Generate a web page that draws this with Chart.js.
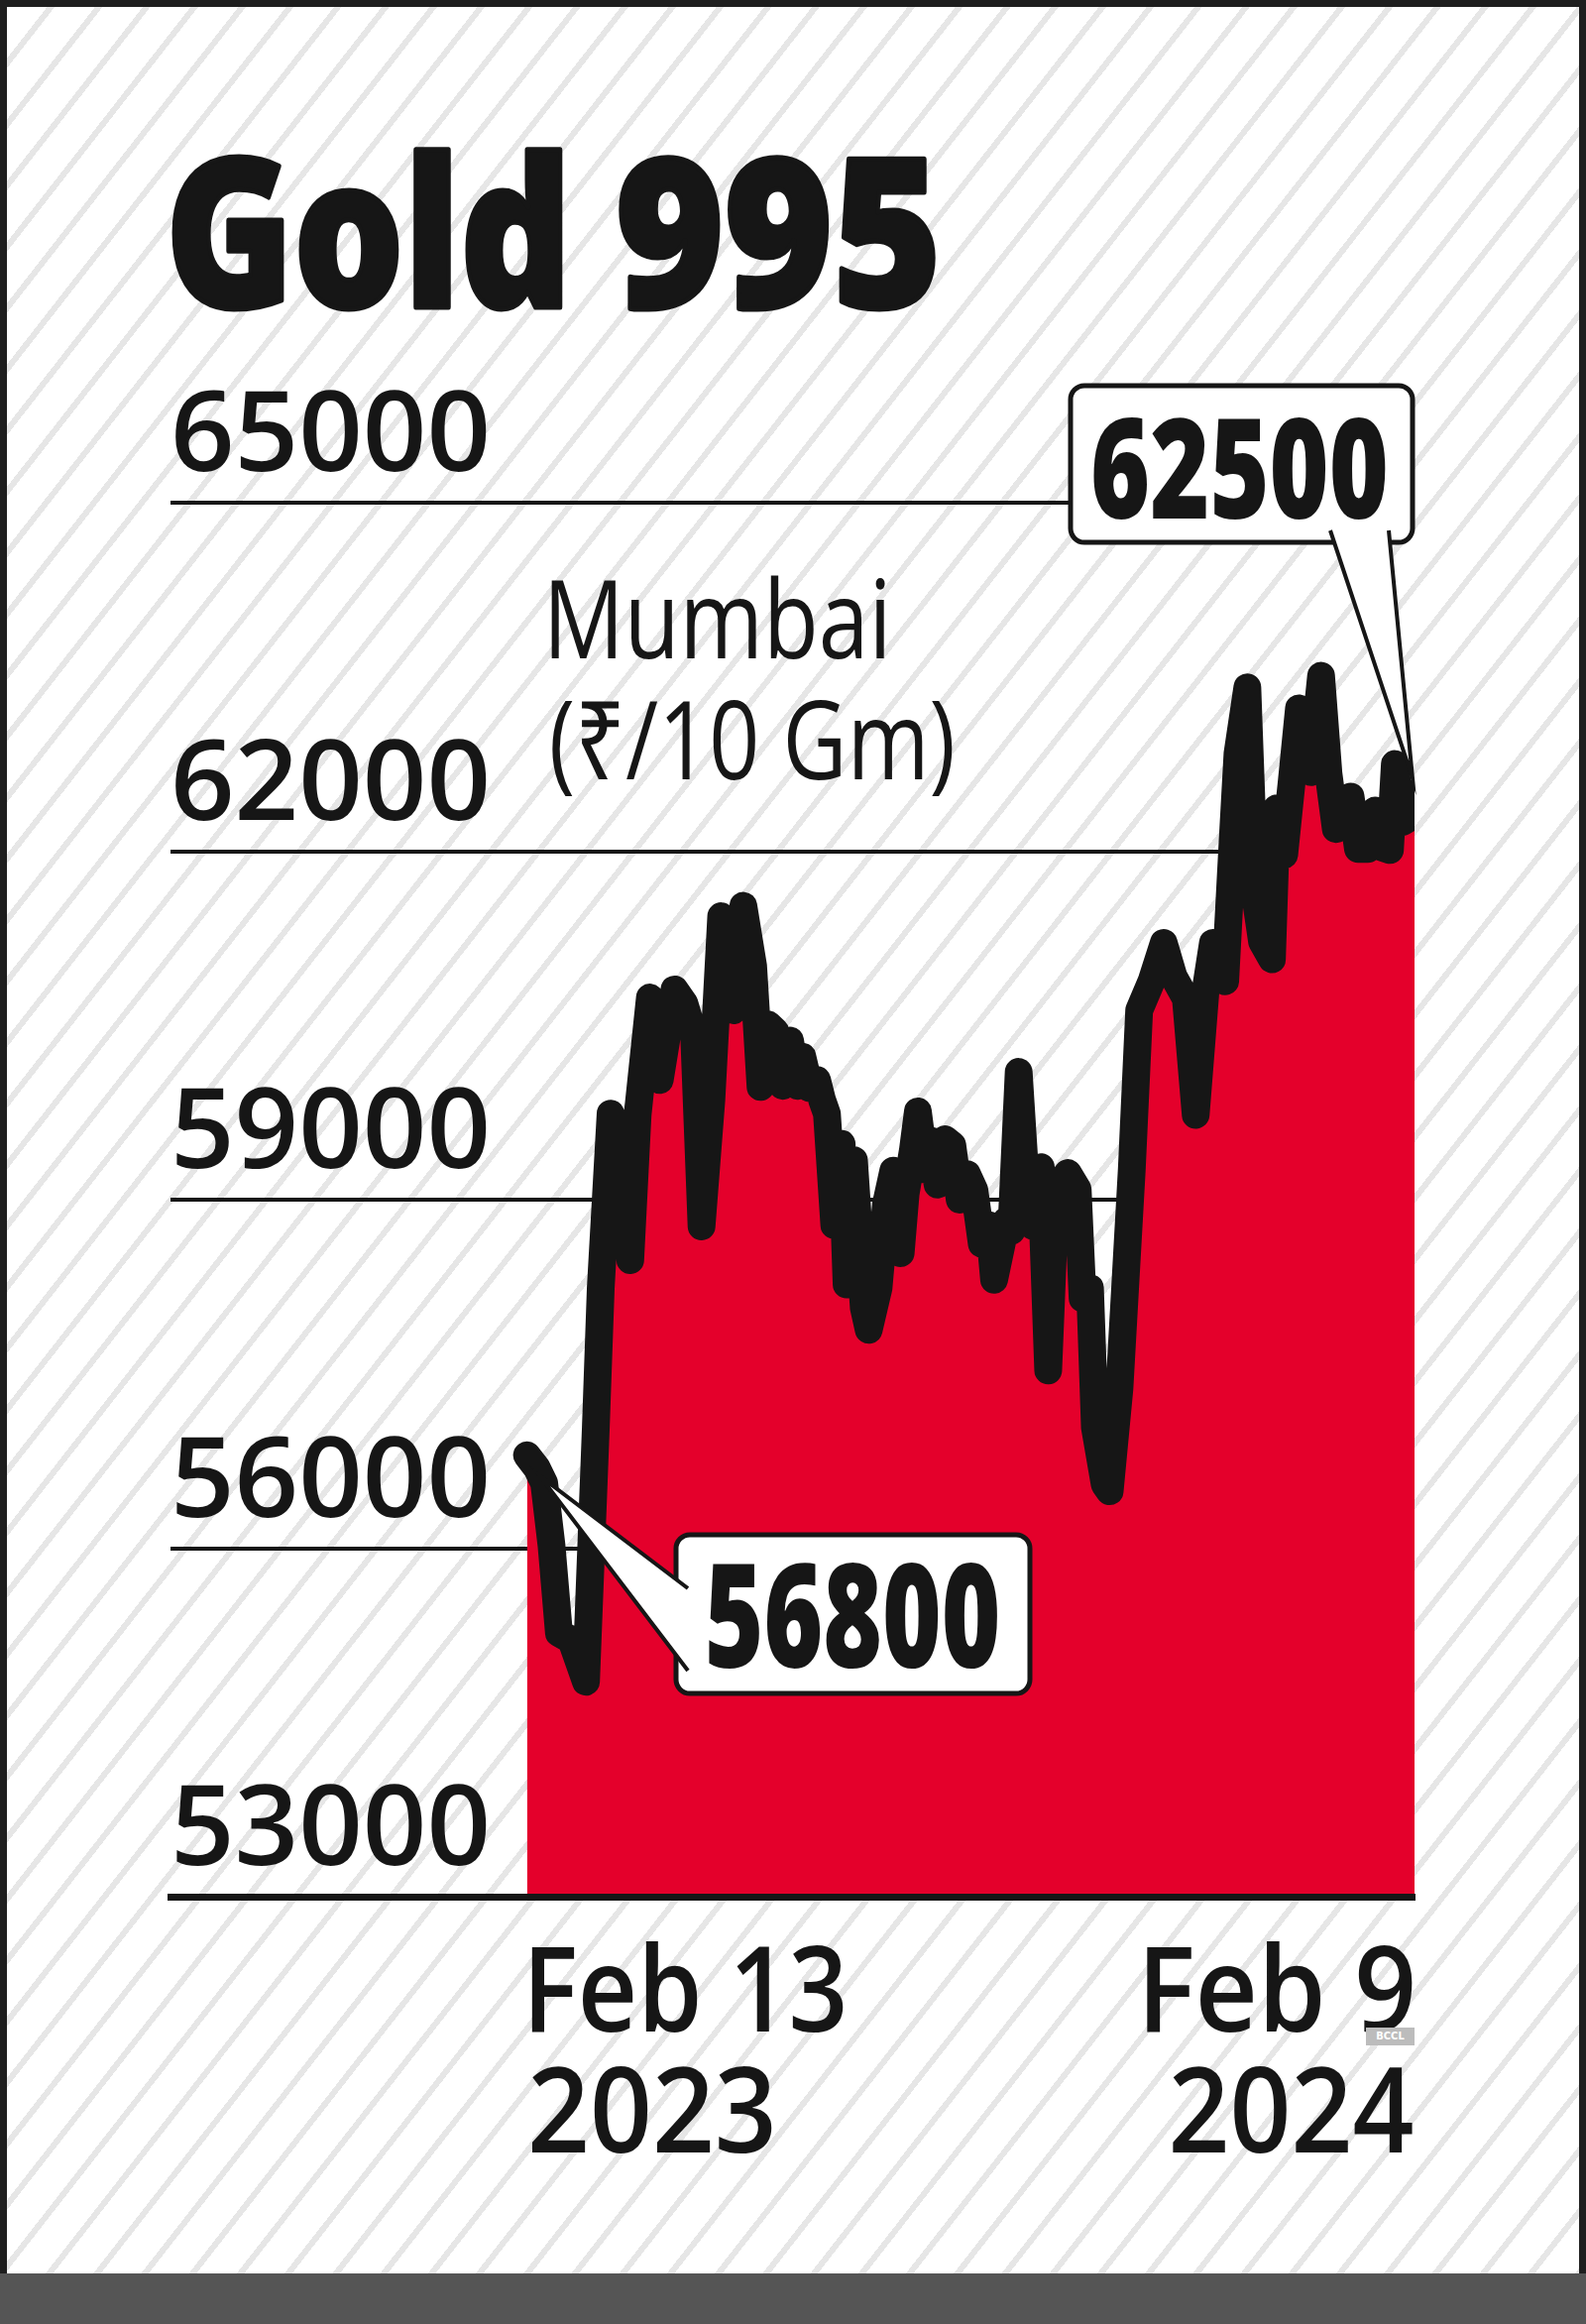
<!DOCTYPE html>
<html>
<head>
<meta charset="utf-8">
<script src="https://cdn.jsdelivr.net/npm/chart.js@4.4.1/dist/chart.umd.min.js"></script>
<style>
  html, body { margin: 0; padding: 0; }
  body { width: 1600px; height: 2344px; background: #555555; position: relative; overflow: hidden; }
  #card {
    position: absolute; left: 0; top: 0; width: 1600px; height: 2293px;
    box-sizing: border-box; border: 7px solid #1e1e1e; border-bottom: none;
    background: repeating-linear-gradient(128deg, #ffffff 0, #ffffff 32px, #e6e6e6 32px, #e6e6e6 38px);
  }
  #chart { position: absolute; left: 0; top: 0; }
  #bccl {
    position: absolute; left: 1378px; top: 2045px; width: 49px; height: 18px;
    background: #bcbcbc; color: #fff; font: 700 11px "DejaVu Sans Condensed", "DejaVu Sans", sans-serif;
    line-height: 18px; text-align: center;
  }
</style>
</head>
<body>
<div id="card"></div>
<canvas id="chart" width="1600" height="2344"></canvas>
<div id="bccl">BCCL</div>
<script>
// days since Feb 13 2023, Mumbai gold 995 (Rs / 10 gm)
const days = [0, 4, 7, 10, 13, 18, 24, 28, 30, 34, 39, 42, 45, 50, 54, 60, 64, 68, 71, 75,
  79, 84, 88, 92, 95, 98, 101, 104, 107, 110, 112, 115, 118, 120, 122, 125, 128, 130, 133, 137,
  139, 143, 146, 149, 152, 154, 157, 159, 162, 164, 167, 170, 173, 176, 179, 182, 185, 188, 190, 193,
  195, 197, 200, 203, 206, 209, 212, 215, 220, 224, 226, 229, 231, 235, 237, 241, 246, 249, 254, 259,
  263, 268, 272, 276, 279, 284, 287, 289, 293, 296, 299, 303, 305, 308, 311, 314, 319, 323, 326, 329,
  333, 335, 338, 342, 345, 348, 351, 353, 356, 359, 361];
const prices = [56800, 56690, 56560, 56020, 55270, 55210, 54850, 57040, 58240, 59740, 59520, 58480, 59730, 60740, 60030, 60810, 60690, 60410, 58770, 59860,
  61440, 60630, 61530, 61010, 59970, 60510, 60450, 59980, 60370, 59980, 60230, 59960, 60030, 59860, 59740, 58780, 59480, 58270, 59340, 58070,
  57880, 58240, 58960, 59250, 58540, 59050, 59430, 59760, 59260, 59510, 59130, 59520, 59470, 59000, 59220, 59080, 58620, 58780, 58310, 58610,
  58820, 58730, 60100, 59090, 58770, 59280, 57530, 59090, 59230, 59090, 58150, 58240, 57040, 56550, 56490, 57380, 59260, 60630, 60880, 61210,
  60920, 60730, 59730, 60800, 61210, 60880, 62080, 62840, 63410, 61650, 61220, 61070, 62370, 61970, 62590, 63230, 62680, 63510, 62670, 62190,
  62370, 62470, 62020, 62020, 62350, 62030, 62010, 62750, 62250, 62290, 62500];
const yTicks = [53000, 56000, 59000, 62000, 65000];
const xTickDays = [0, 361];
const xTickLabels = [['Feb 13', '2023'], ['Feb 9', '2024']];

const INK = '#161616';

// draw text squeezed horizontally so its ink spans the given width
function fitText(ctx, text, font, x, y, width, align, stroke) {
  ctx.font = font;
  const m = ctx.measureText(text);
  const ink = m.actualBoundingBoxLeft + m.actualBoundingBoxRight;
  const s = width / ink;
  ctx.save();
  ctx.translate(align === 'right' ? x - width : x, y);
  ctx.scale(s, 1);
  ctx.fillText(text, m.actualBoundingBoxLeft, 0);
  if (stroke) {
    ctx.lineWidth = stroke;
    ctx.lineJoin = 'round';
    ctx.strokeStyle = ctx.fillStyle;
    ctx.strokeText(text, m.actualBoundingBoxLeft, 0);
  }
  ctx.restore();
}

function callout(ctx, box, apex, b1, b2, text, font, tx, ty, tw) {
  ctx.save();
  ctx.fillStyle = '#ffffff';
  ctx.strokeStyle = INK;
  ctx.lineWidth = 5;
  ctx.beginPath();
  ctx.roundRect(box.x, box.y, box.w, box.h, 14);
  ctx.fill();
  ctx.stroke();
  ctx.beginPath();
  ctx.moveTo(b1[0], b1[1]);
  ctx.lineTo(apex[0], apex[1]);
  ctx.lineTo(b2[0], b2[1]);
  ctx.closePath();
  ctx.fill();
  ctx.lineWidth = 4;
  ctx.beginPath();
  ctx.moveTo(b1[0], b1[1]);
  ctx.lineTo(apex[0], apex[1]);
  ctx.lineTo(b2[0], b2[1]);
  ctx.stroke();
  ctx.fillStyle = INK;
  ctx.textBaseline = 'alphabetic';
  fitText(ctx, text, font, tx, ty, tw);
  ctx.restore();
}

const annotate = {
  id: 'annotate',
  afterDraw(chart) {
    const ctx = chart.ctx;
    const xs = chart.scales.x, ys = chart.scales.y;
    ctx.save();
    ctx.fillStyle = INK;
    ctx.textBaseline = 'alphabetic';
    fitText(ctx, 'Gold', '800 210px "Open Sans"', 175, 310, 391, 'left', 5);
    fitText(ctx, '995', '800 210px "Open Sans"', 626, 310, 316, 'left', 5);
    fitText(ctx, 'Mumbai', '400 110px "Open Sans"', 556, 664, 337);
    fitText(ctx, '(₹/10 Gm)', '400 110px "Open Sans"', 557, 786, 404);

    // date labels under the first and last points
    const xl = xs.getPixelForValue(xTickDays[0]);
    const xr = xs.getPixelForValue(xTickDays[1]);
    const f = '600 120px "Open Sans"';
    fitText(ctx, xTickLabels[0][0], f, xl + 5, 2049, 314);
    fitText(ctx, xTickLabels[0][1], f, xl + 5, 2171, 242);
    fitText(ctx, xTickLabels[1][0], f, xr - 2, 2049, 268, 'right');
    fitText(ctx, xTickLabels[1][1], f, xr - 2, 2171, 242, 'right');
    ctx.restore();

    const n = prices.length - 1;
    const x0 = xs.getPixelForValue(days[0]), y0 = ys.getPixelForValue(prices[0]);
    const x1 = xs.getPixelForValue(days[n]), y1 = ys.getPixelForValue(prices[n]);

    callout(ctx, {x: 682, y: 1548, w: 357, h: 160},
      [x0 + 13, y0 + 21], [694, 1602], [694, 1685],
      String(prices[0]), '800 145px "Open Sans"', 715, 1682, 291);
    callout(ctx, {x: 1080, y: 389, w: 345, h: 158},
      [x1 - 2, y1 - 15], [1342, 535], [1401, 535],
      String(prices[n]), '800 140px "Open Sans"', 1103, 523, 295);
  }
};

new Chart(document.getElementById('chart'), {
  type: 'line',
  data: {
    datasets: [{
      data: days.map((d, i) => ({x: d, y: prices[i]})),
      borderColor: INK,
      borderWidth: 28,
      borderJoinStyle: 'round',
      borderCapStyle: 'round',
      backgroundColor: '#e4002b',
      fill: 'start',
      pointRadius: 0,
      tension: 0
    }]
  },
  options: {
    responsive: false,
    animation: false,
    devicePixelRatio: 1,
    layout: {padding: {left: 172, right: 173, top: 507, bottom: 431}},
    plugins: {legend: {display: false}, tooltip: {enabled: false}},
    scales: {
      x: {
        type: 'linear', min: -145, max: 361, z: 1,
        afterFit(s) { s.height = 0; },
        afterBuildTicks(s) { s.ticks = xTickDays.map(v => ({value: v})); },
        grid: {display: false, drawTicks: false},
        border: {display: true, width: 7, color: INK, z: 1},
        ticks: {display: false}
      },
      y: {
        min: 53000, max: 65000,
        afterFit(s) { s.width = 0; },
        afterBuildTicks(s) { s.ticks = yTicks.map(v => ({value: v})); },
        grid: {color: INK, lineWidth: 4, drawTicks: false},
        border: {display: false},
        ticks: {
          mirror: true, padding: 0, labelOffset: -64, color: INK,
          font: {family: '"Open Sans"', weight: '600', size: 113},
          callback: v => String(v)
        }
      }
    }
  },
  plugins: [annotate]
});
</script>
</body>
</html>
